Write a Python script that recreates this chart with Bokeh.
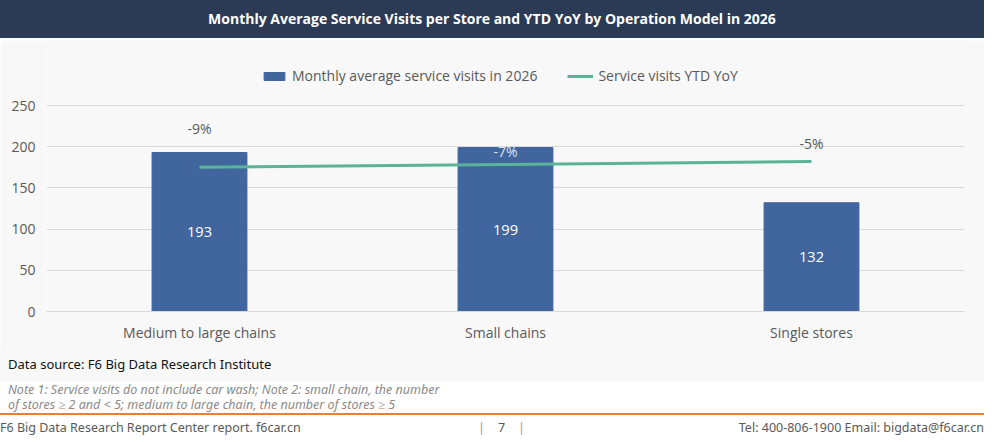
from bokeh.plotting import figure
from bokeh.models import ColumnDataSource, Range1d, Legend, LegendItem, Div, FixedTicker
from bokeh.layouts import column
from bokeh.core.properties import value
from bokeh.embed import file_html
from bokeh.resources import INLINE

categories = ["Medium to large chains", "Small chains", "Single stores"]
visits = [193, 199, 132]
yoy = [-9, -7, -5]
yoy_labels = ["-9%", "-7%", "-5%"]

label_offsets = [-29, -3, -9]
label_colors = ["#595959", "#dde3ee", "#595959"]

FONT = "Open Sans"
src = ColumnDataSource(dict(cat=categories, v=visits, vl=[str(x) for x in visits],
                            half=[x / 2 for x in visits], yoy=yoy, yl=yoy_labels,
                            off=label_offsets, lc=label_colors))

p = figure(x_range=categories, y_range=Range1d(0, 328.9), width=984, height=310,
           output_backend="svg", toolbar_location=None,
           min_border_left=46, min_border_right=20, min_border_top=0, min_border_bottom=39)
p.extra_y_ranges = {"yoy": Range1d(-109, 78.94)}
p.background_fill_color = "#f8f8f8"
p.border_fill_color = "#f8f8f8"
p.outline_line_color = None

bars = p.vbar(x="cat", top="v", width=0.31, color="#41669e", source=src)
ln = p.line(x="cat", y="yoy", y_range_name="yoy", line_color="#5bb49a", line_width=3, source=src)
p.text(x="cat", y="half", text="vl", source=src, text_color="white", text_font=value(FONT),
       text_font_size="11pt", text_align="center", text_baseline="middle")
p.text(x="cat", y="yoy", text="yl", y_range_name="yoy", y_offset="off", source=src,
       text_color="lc", text_font=value(FONT), text_font_size="10.5pt",
       text_align="center", text_baseline="bottom")

p.yaxis.ticker = FixedTicker(ticks=[0, 50, 100, 150, 200, 250])
for ax in (p.xaxis[0], p.yaxis[0]):
    ax.major_label_text_font = FONT
    ax.major_label_text_font_size = "10.5pt"
    ax.major_label_text_color = "#595959"
    ax.major_tick_line_color = None
    ax.minor_tick_line_color = None
p.yaxis.axis_line_color = None
p.xaxis.axis_line_color = "#d9d9d9"
p.xgrid.grid_line_color = None
p.ygrid.grid_line_color = "#d9d9d9"

legend = Legend(items=[LegendItem(label="Monthly average service visits in 2026", renderers=[bars]),
                       LegendItem(label="Service visits YTD YoY", renderers=[ln])],
                orientation="horizontal", location=(215, 226),
                background_fill_alpha=0, border_line_color=None,
                label_text_font=FONT, label_text_font_size="10.5pt", label_text_color="#595959",
                glyph_width=26, glyph_height=10, spacing=30, padding=0, margin=0)
p.add_layout(legend, "center")

title = Div(text="Monthly Average Service Visits per Store and YTD YoY by Operation Model in 2026",
            width=984, height=38, margin=0,
            styles={"background": "#2b3a55", "color": "white", "font-family": FONT, "font-weight": "bold",
                    "font-size": "14px", "text-align": "center", "line-height": "38px", "width": "984px"})
gap = Div(text="", width=984, height=2, margin=0)
foot = Div(text=(
    '<div style="width:984px;position:relative">'
    '<div style="background:#f8f8f8;height:31px;padding-left:8px;font-family:Noto Sans;font-size:13px;color:#111;">'
    '<div style="padding-top:5px">Data source: F6 Big Data Research Institute</div></div>'
    '<div style="font-family:Noto Sans;font-style:italic;font-size:12.5px;color:#8a8a8a;line-height:15px;padding-left:8px;margin-top:1px">'
    'Note 1: Service visits do not include car wash; Note 2: small chain, the number<br>'
    'of stores \u2265 2 and &lt; 5; medium to large chain, the number of stores \u2265 5</div>'
    '<div style="border-top:2px solid #ed7d31;margin-top:1px"></div>'
    '<div style="position:relative;height:22px;font-family:Noto Sans;font-size:12.5px;color:#595959;margin-top:4px">'
    '<span style="position:absolute;left:0">F6 Big Data Research Report Center report. f6car.cn</span>'
    '<span style="position:absolute;left:478px;color:#999">|&nbsp;&nbsp;&nbsp;&nbsp;<span style="color:#595959">7</span>&nbsp;&nbsp;&nbsp;&nbsp;|</span>'
    '<span style="position:absolute;right:0">Tel: 400-806-1900 Email: bigdata@f6car.cn</span></div></div>'),
    width=984, height=90, margin=0)

layout = column(title, gap, p, foot, spacing=0)
open("out.html", "w").write(file_html(layout, INLINE))
